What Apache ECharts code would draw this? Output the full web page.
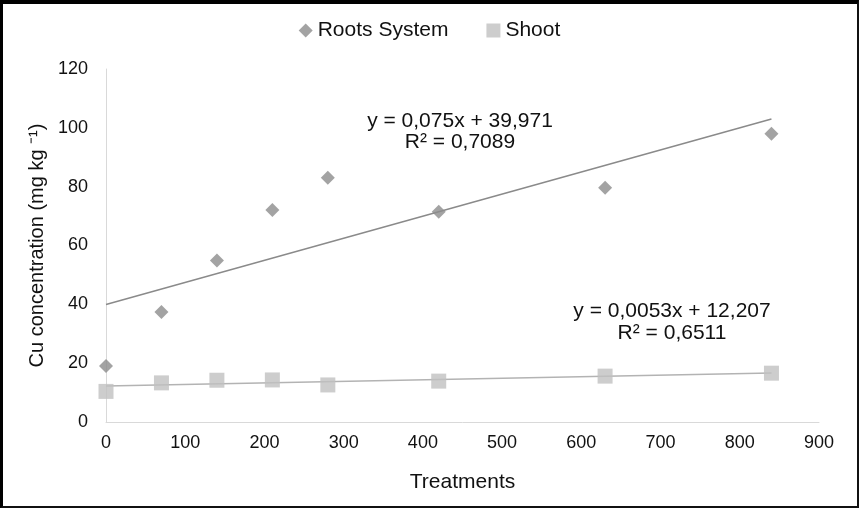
<!DOCTYPE html>
<html>
<head>
<meta charset="utf-8">
<script src="https://cdn.jsdelivr.net/npm/echarts@6/dist/echarts.min.js"></script>
<style>
html,body{margin:0;padding:0;background:#fff;}
#frame{width:859px;height:508px;box-sizing:border-box;border:2px solid #111;border-top:4px solid #000;border-left:3px solid #000;position:relative;}
#chart{position:absolute;left:-3px;top:-4px;width:859px;height:508px;}
</style>
</head>
<body>
<div id="frame"><div id="chart"></div></div>
<script>
var treatments = [0, 70, 140, 210, 280, 420, 630, 840];
var rootsValues = [19, 37.4, 54.9, 72.1, 83, 71.5, 79.6, 98];
var shootValues = [10.4, 13.3, 14.2, 14.3, 12.6, 13.9, 15.6, 16.6];
var rootsFit = {slope: 0.075, intercept: 39.971, eq: 'y = 0,075x + 39,971', r2: 'R² = 0,7089'};
var shootFit = {slope: 0.0053, intercept: 12.207, eq: 'y = 0,0053x + 12,207', r2: 'R² = 0,6511'};
var xTicks = {min: 0, max: 900, interval: 100};
var yTicks = {min: 0, max: 120, interval: 20};

function pairs(xs, ys){ return xs.map(function(x,i){ return [x, ys[i]]; }); }
function fitLine(f){
  var x0 = treatments[0], x1 = treatments[treatments.length-1];
  return [[x0, f.intercept + f.slope*x0], [x1, f.intercept + f.slope*x1]];
}

var chart = echarts.init(document.getElementById('chart'), null, {renderer:'canvas'});
var font = 'Liberation Sans, Arial, sans-serif';
chart.setOption({
  animation: false,
  backgroundColor: 'transparent',
  textStyle: {fontFamily: font},
  legend: {
    top: 15, left: 'center', itemGap: 38, itemWidth: 14, itemHeight: 14,
    textStyle: {fontSize: 21, color: '#111', fontFamily: font},
    data: [{name:'Roots System', icon:'diamond'}, {name:'Shoot', icon:'rect'}]
  },
  grid: {left: 106, right: 40, top: 69, bottom: 86},
  xAxis: {
    type: 'value', min: xTicks.min, max: xTicks.max, interval: xTicks.interval,
    name: 'Treatments', nameLocation: 'middle', nameGap: 50,
    nameTextStyle: {fontSize: 21, color: '#111', fontFamily: font},
    axisLine: {show: true, lineStyle: {color: '#d9d9d9', width: 1}},
    axisTick: {show: false}, splitLine: {show: false},
    axisLabel: {fontSize: 18, color: '#111', margin: 12, fontFamily: font}
  },
  yAxis: {
    type: 'value', min: yTicks.min, max: yTicks.max, interval: yTicks.interval,
    name: 'Cu concentration (mg kg ⁻¹)', nameLocation: 'middle', nameGap: 52, nameRotate: 90,
    nameTextStyle: {fontSize: 20, color: '#111', fontFamily: font},
    axisLine: {show: true, lineStyle: {color: '#d9d9d9', width: 1}},
    axisTick: {show: false}, splitLine: {show: false},
    axisLabel: {fontSize: 18, color: '#111', margin: 18, fontFamily: font}
  },
  series: [
    {name: 'Roots trend', type: 'line', data: fitLine(rootsFit), symbol: 'none',
     lineStyle: {color: '#8a8a8a', width: 1.5}, silent: true, z: 1},
    {name: 'Shoot trend', type: 'line', data: fitLine(shootFit), symbol: 'none',
     lineStyle: {color: '#b3b3b3', width: 1.5}, silent: true, z: 1},
    {name: 'Roots System', type: 'scatter', data: pairs(treatments, rootsValues),
     symbol: 'diamond', symbolSize: 14, itemStyle: {color: '#8c8c8c'}, z: 3},
    {name: 'Shoot', type: 'scatter', data: pairs(treatments, shootValues),
     symbol: 'rect', symbolSize: 15, itemStyle: {color: '#c0c0c0'}, z: 3}
  ],
  graphic: [
    {type:'text', x: 460, y: 132, style:{text: rootsFit.eq + '\n' + rootsFit.r2, align:'center', verticalAlign:'middle', font: '21px ' + font, fill:'#111', lineHeight: 21}},
    {type:'text', x: 672, y: 322, style:{text: shootFit.eq + '\n' + shootFit.r2, align:'center', verticalAlign:'middle', font: '21px ' + font, fill:'#111', lineHeight: 22}}
  ]
});
</script>
</body>
</html>
